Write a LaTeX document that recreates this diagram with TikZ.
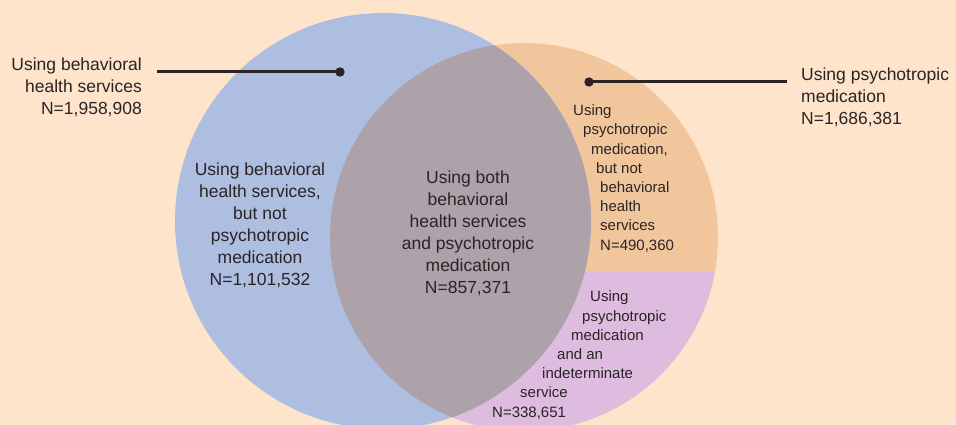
\documentclass[tikz,border=0pt]{standalone}
\usepackage{fontspec}
\usetikzlibrary{calc}
\newfontfamily\vennfont{Liberation Sans}
\definecolor{bgpeach}{HTML}{FDE4CB}
\definecolor{bhsblue}{HTML}{ADBEE0}
\definecolor{medorange}{HTML}{F2C69C}
\definecolor{indpurple}{HTML}{DDBCE0}
\definecolor{bothgray}{HTML}{ADA1AA}
\definecolor{inkgray}{HTML}{2A2425}
\tikzset{
  biglabel/.style={font=\vennfont\fontsize{17.5}{22}\selectfont, text=inkgray, inner sep=0pt},
  smalllabel/.style={font=\vennfont\fontsize{15}{19.2}\selectfont, text=inkgray, inner sep=0pt, align=left},
  leader/.style={draw=inkgray, line width=3pt},
  leaderdot/.style={fill=inkgray},
}
\begin{document}
\begin{tikzpicture}[x=1pt,y=-1pt]
  \fill[bgpeach] (0,0) rectangle (956,425);
  \useasboundingbox (0,0) rectangle (956,425);
  \coordinate (bhs) at (383,221);
  \coordinate (med) at (524,237);
  % right circle, indeterminate part below
  \fill[medorange] (med) circle[radius=194pt];
  \begin{scope}
    \clip (med) circle[radius=194pt];
    \fill[indpurple] (300,271) rectangle (760,440);
  \end{scope}
  % left circle and the overlap
  \fill[bhsblue] (bhs) circle[radius=208pt];
  \begin{scope}
    \clip (bhs) circle[radius=208pt];
    \fill[bothgray] (med) circle[radius=194pt];
  \end{scope}
  % outside labels (base = last line)
  \node[biglabel, align=right, anchor=base east] (bhslabel) at (142,115)
    {Using behavioral\\health services\\N=1,958,908};
  \node[biglabel, align=left, anchor=base west] (medlabel) at (801,125)
    {Using psychotropic\\medication\\N=1,686,381};
  % region labels
  \node[biglabel, align=center, anchor=base] (bhsonly) at (260,285)
    {Using behavioral\\health services,\\but not\\psychotropic\\medication\\N=1,101,532};
  \node[biglabel, align=center, anchor=base] (both) at (468,293)
    {Using both\\behavioral\\health services\\and psychotropic\\medication\\N=857,371};
  \node[smalllabel, anchor=base west] (medonly) at (573,250)
    {Using\\\hspace*{10pt}psychotropic\\\hspace*{18pt}medication,\\\hspace*{23pt}but not\\
     \hspace*{27pt}behavioral\\\hspace*{27pt}health\\\hspace*{27pt}services\\\hspace*{27pt}N=490,360};
  \node[smalllabel, anchor=base west] (indet) at (492,417)
    {\hspace*{98pt}Using\\\hspace*{90pt}psychotropic\\\hspace*{79pt}medication\\\hspace*{65pt}and an\\
     \hspace*{50pt}indeterminate\\\hspace*{28pt}service\\N=338,651};
  % leaders
  \coordinate (bhsdot) at (340,72);
  \coordinate (meddot) at (589,82);
  \draw[leader, shorten >=15pt] (bhsdot) -- (bhsdot -| bhslabel.east);
  \draw[leader, shorten >=14pt] (meddot) -- (meddot -| medlabel.west);
  \fill[leaderdot] (bhsdot) circle[radius=4.7pt];
  \fill[leaderdot] (meddot) circle[radius=4.7pt];
\end{tikzpicture}
\end{document}
